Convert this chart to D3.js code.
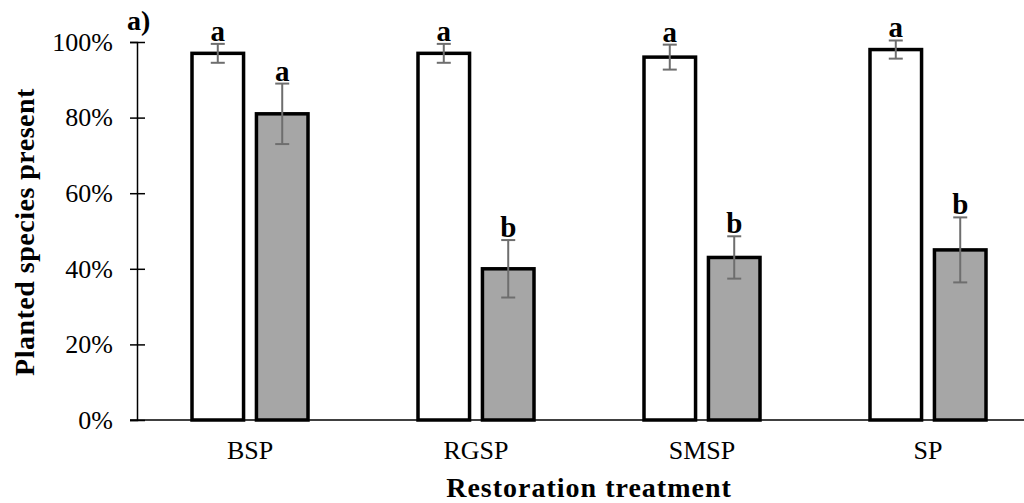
<!DOCTYPE html>
<html>
<head>
<meta charset="utf-8">
<script src="https://cdn.jsdelivr.net/npm/d3@7"></script>
<style>
  body { margin: 0; background: #fff; }
  text { font-family: "Liberation Serif", "Times New Roman", serif; }
</style>
</head>
<body>
<div id="content"></div>
<script>
const categories = ["BSP", "RGSP", "SMSP", "SP"];
const series = ["s1", "s2"];
const values_1 = [97, 97, 96, 98];
const errors_1 = [2.5, 2.5, 3.3, 2.4];
const values_2 = [81, 40, 43, 45];
const errors_2 = [8, 7.6, 5.6, 8.6];
const letters_1 = ["a", "a", "a", "a"];
const letters_2 = ["a", "b", "b", "b"];
const y_ticks = [0, 20, 40, 60, 80, 100];

const width = 1024, height = 503;
const bar_fills = {s1: "#ffffff", s2: "#a6a6a6"};

var svg = d3
    .select("#content")
    .append("svg")
    .attr("width", width)
    .attr("height", height);

var x = d3.scaleBand()
    .domain(categories)
    .range([137, 1041]);

var x_inner = d3.scaleBand()
    .domain(series)
    .range([0, 116])
    .paddingInner(0.2);

var y = d3.scaleLinear()
    .domain([0, 100])
    .range([420, 42]);

// y axis with cross ticks
var y_axis = svg.append("g")
    .attr("transform", "translate(137,0)")
    .call(d3.axisLeft(y).tickValues(y_ticks).tickSize(7).tickFormat(d => d + "%"));
y_axis.select(".domain").attr("stroke", "#000").attr("stroke-width", 1.5);
y_axis.selectAll(".tick line")
    .attr("x1", -7).attr("x2", 8)
    .attr("stroke", "#000").attr("stroke-width", 1.5);
y_axis.selectAll(".tick text")
    .attr("x", -24)
    .style("font-size", "26px")
    .attr("fill", "#000");

// x axis
var x_axis = svg.append("g")
    .attr("transform", "translate(0,420)")
    .call(d3.axisBottom(x).tickSize(0));
x_axis.select(".domain").remove();
x_axis.append("line")
    .attr("x1", 130).attr("x2", width)
    .attr("stroke", "#000").attr("stroke-width", 1.5);
x_axis.selectAll(".tick text")
    .attr("y", 21)
    .style("font-size", "26px")
    .attr("fill", "#000");

var rows = categories.map((c, i) => [
    {cat: c, s: "s1", v: values_1[i], e: errors_1[i], l: letters_1[i]},
    {cat: c, s: "s2", v: values_2[i], e: errors_2[i], l: letters_2[i]}
]).flat();

var bar_x = d => x(d.cat) + x.bandwidth() / 2 - 58 + x_inner(d.s);
var bar_cx = d => bar_x(d) + x_inner.bandwidth() / 2;

svg.append("g")
    .selectAll("rect")
    .data(rows)
    .join("rect")
    .attr("x", bar_x)
    .attr("y", d => y(d.v))
    .attr("width", x_inner.bandwidth())
    .attr("height", d => y(0) - y(d.v))
    .attr("fill", d => bar_fills[d.s])
    .attr("stroke", "#000")
    .attr("stroke-width", 3.5);

// error bars
var err = svg.append("g")
    .attr("stroke", "#6e6e6e")
    .attr("stroke-width", 2)
    .selectAll("g")
    .data(rows)
    .join("g");
err.append("line")
    .attr("x1", bar_cx).attr("x2", bar_cx)
    .attr("y1", d => y(d.v + d.e)).attr("y2", d => y(d.v - d.e));
err.append("line")
    .attr("x1", d => bar_cx(d) - 7).attr("x2", d => bar_cx(d) + 7)
    .attr("y1", d => y(d.v + d.e)).attr("y2", d => y(d.v + d.e));
err.append("line")
    .attr("x1", d => bar_cx(d) - 7).attr("x2", d => bar_cx(d) + 7)
    .attr("y1", d => y(d.v - d.e)).attr("y2", d => y(d.v - d.e));

// significance letters
svg.append("g")
    .selectAll("text")
    .data(rows)
    .join("text")
    .attr("x", bar_cx)
    .attr("y", d => y(d.v + d.e) - 3)
    .attr("text-anchor", "middle")
    .style("font-size", "29px")
    .style("font-weight", "bold")
    .text(d => d.l);

svg.append("text")
    .attr("x", 127)
    .attr("y", 30)
    .style("font-size", "28px")
    .style("font-weight", "bold")
    .text("a)");

svg.append("text")
    .attr("transform", "translate(34,232) rotate(-90)")
    .attr("text-anchor", "middle")
    .style("font-size", "28px")
    .style("font-weight", "bold")
    .style("letter-spacing", "0.5px")
    .text("Planted species present");

svg.append("text")
    .attr("x", 589)
    .attr("y", 497)
    .attr("text-anchor", "middle")
    .style("font-size", "28px")
    .style("font-weight", "bold")
    .style("letter-spacing", "1px")
    .text("Restoration treatment");
</script>
</body>
</html>
